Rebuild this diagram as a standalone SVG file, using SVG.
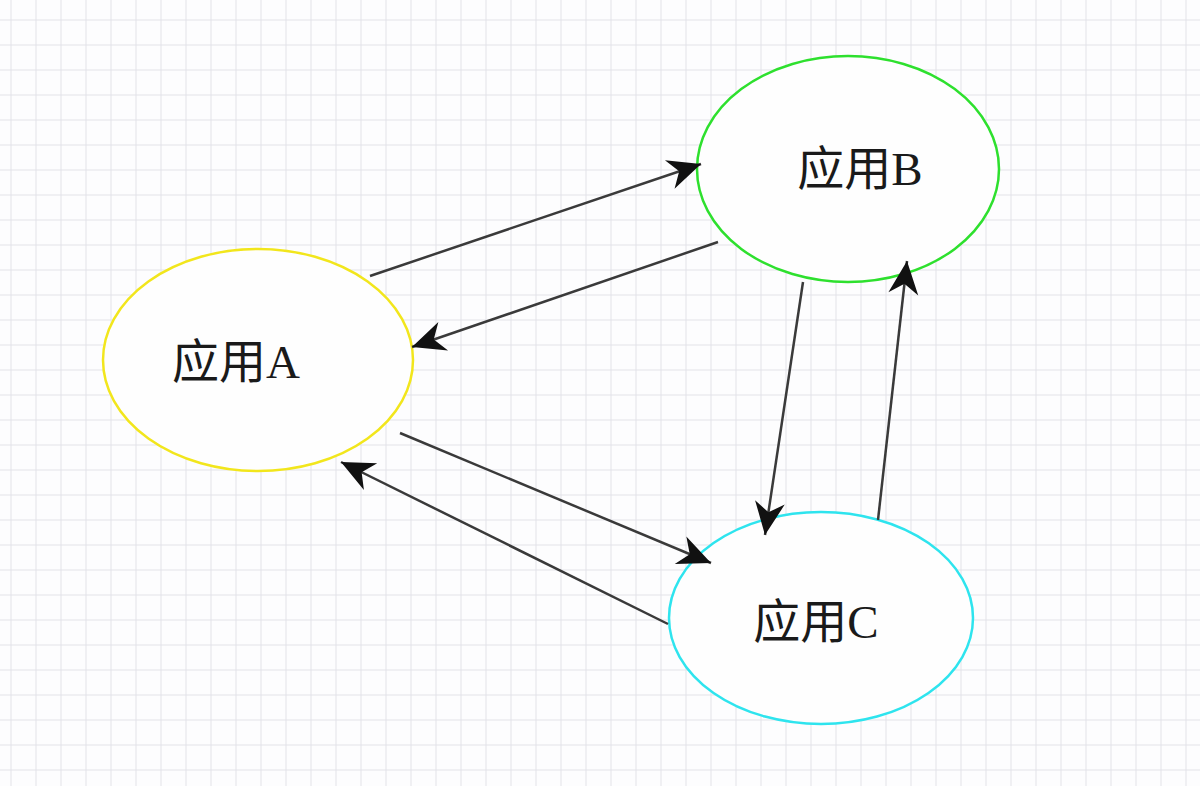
<svg xmlns="http://www.w3.org/2000/svg" width="1200" height="786" viewBox="0 0 1200 786">
<defs>
<pattern id="grid" x="10.5" y="19.5" width="25" height="25" patternUnits="userSpaceOnUse">
<path d="M0,0 H25 M0,0 V25" stroke="#e2e2e8" stroke-width="2" fill="none"/>
</pattern>
<marker id="arr" viewBox="-36 -17 38 34" refX="0" refY="0" markerWidth="38" markerHeight="34" markerUnits="userSpaceOnUse" orient="auto">
<path d="M0,0 L-33,-15 L-23,0 L-33,15 Z" fill="#111"/>
</marker>
<style>
.node{fill:#fefefe;stroke-width:2.5}
.lbl{font-family:"Liberation Serif","Noto Sans CJK SC",serif;font-size:47px;fill:#1a1a1a;text-anchor:middle}
.edge{stroke:#3a3a3a;stroke-width:2.5;fill:none;marker-end:url(#arr)}
</style>
</defs>
<rect width="1200" height="786" fill="#fdfdfe"/>
<rect width="1200" height="786" fill="url(#grid)"/>
<g id="nodeA">
<ellipse class="node" cx="258" cy="360" rx="155" ry="111" stroke="#f2e61c"/>
<text class="lbl" x="236" y="378">应用A</text>
</g>
<g id="nodeB">
<ellipse class="node" cx="848" cy="169" rx="151" ry="113" stroke="#2ee02e"/>
<text class="lbl" x="860" y="185">应用B</text>
</g>
<g id="nodeC">
<ellipse class="node" cx="821" cy="618" rx="152" ry="106" stroke="#2ee4ee"/>
<text class="lbl" x="816" y="638">应用C</text>
</g>
<g id="connectors">
<line class="edge" x1="370" y1="276" x2="701" y2="164"/>
<line class="edge" x1="718" y1="242" x2="412" y2="347"/>
<line class="edge" x1="803" y1="282" x2="765" y2="535"/>
<line class="edge" x1="878" y1="520" x2="907" y2="261"/>
<line class="edge" x1="400" y1="433" x2="711" y2="563"/>
<line class="edge" x1="668" y1="624" x2="341" y2="462"/>
</g>
</svg>
